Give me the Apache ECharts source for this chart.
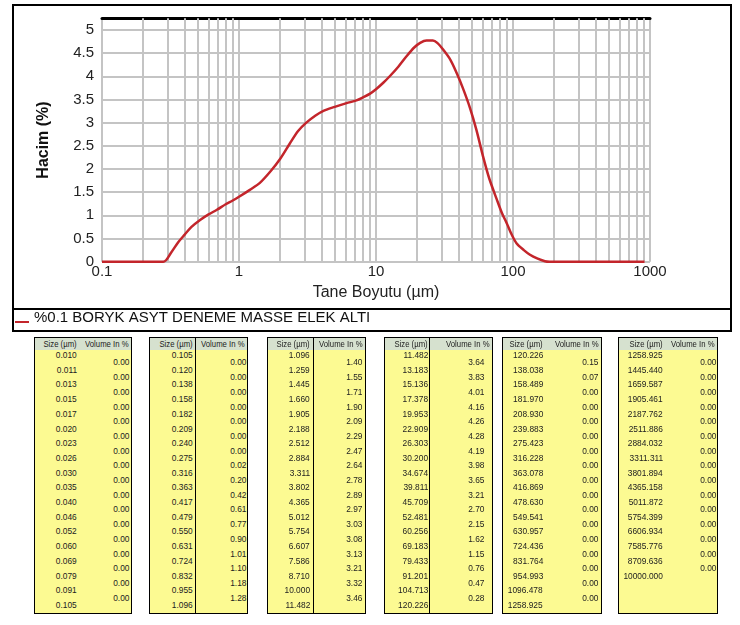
<!DOCTYPE html>
<html><head><meta charset="utf-8">
<script src="https://cdn.jsdelivr.net/npm/echarts/dist/echarts.min.js"></script>
<style>
html,body{margin:0;padding:0;background:#fff;}
#chart{position:absolute;left:0;top:0;width:740px;height:625px;}
.box{position:absolute;border:2px solid #000;box-sizing:border-box;}
.tbl{position:absolute;top:337px;height:277px;border:1px solid #000;box-sizing:border-box;background:#fcfa92;font-family:'Liberation Sans',Arial,sans-serif;font-size:9.5px;color:#222;overflow:hidden;}
.hdr{position:absolute;left:0;top:0;right:0;height:12px;background:#d6e1cf;}
.t{position:absolute;height:14px;line-height:14px;white-space:nowrap;text-align:right;transform:scaleX(0.88);transform-origin:right center;}
.ht{position:absolute;top:0;height:12px;line-height:12px;white-space:nowrap;text-align:right;font-size:9px;transform:scaleX(0.86);transform-origin:right center;}
.dv{position:absolute;top:0;bottom:0;width:1px;background:#000;}
</style></head>
<body>
<div id="chart"></div>
<div class="box" style="left:12px;top:4px;width:720px;height:306px;"></div>
<div class="box" style="left:12px;top:308px;width:720px;height:24px;"></div>
<div id="tables"></div>
<script>
// ---- curve (size in µm, volume in %) ----
var curveSize   = [0.1, 0.28, 0.32, 0.36, 0.40, 0.45, 0.52, 0.60, 0.69, 0.80, 0.90, 1.0, 1.2, 1.42, 1.7, 2.0, 2.35, 2.7, 3.1, 3.6, 4.1, 5.0, 6.1, 7.2, 8.1, 9.0, 10, 11.3, 12.6, 14.5, 16.7, 19, 21, 23.4, 26, 28, 31, 35, 38.8, 43, 48.5, 54, 60.7, 67, 76, 83, 90, 98, 106, 120, 133, 150, 171, 185, 500, 912];
var curveVolume = [0, 0, 0.2, 0.42, 0.58, 0.75, 0.9, 1.02, 1.12, 1.24, 1.32, 1.40, 1.55, 1.70, 1.95, 2.22, 2.55, 2.82, 3.0, 3.15, 3.25, 3.34, 3.42, 3.48, 3.55, 3.62, 3.72, 3.86, 4.0, 4.2, 4.43, 4.62, 4.72, 4.77, 4.77, 4.72, 4.57, 4.35, 4.07, 3.75, 3.32, 2.85, 2.25, 1.80, 1.35, 1.05, 0.83, 0.58, 0.40, 0.25, 0.15, 0.07, 0.01, 0, 0, 0];
var seriesName = '%0.1 BORYK ASYT DENEME MASSE ELEK ALTI';
var minorGrid = [0.2,0.3,0.4,0.5,0.6,0.7,0.8,0.9, 2,3,4,5,6,7,8,9, 20,30,40,50,60,70,80,90, 200,300,400,500,600,700,800,900];
var xName = 'Tane Boyutu (µm)';
var yName = 'Hacim (%)';

// ---- tables ----
var headSize = 'Size (µm)';
var headVol = 'Volume In %';
var sizes1 = ['0.010','0.011','0.013','0.015','0.017','0.020','0.023','0.026','0.030','0.035','0.040','0.046','0.052','0.060','0.069','0.079','0.091','0.105'];
var vols1  = ['0.00','0.00','0.00','0.00','0.00','0.00','0.00','0.00','0.00','0.00','0.00','0.00','0.00','0.00','0.00','0.00','0.00'];
var sizes2 = ['0.105','0.120','0.138','0.158','0.182','0.209','0.240','0.275','0.316','0.363','0.417','0.479','0.550','0.631','0.724','0.832','0.955','1.096'];
var vols2  = ['0.00','0.00','0.00','0.00','0.00','0.00','0.00','0.02','0.20','0.42','0.61','0.77','0.90','1.01','1.10','1.18','1.28'];
var sizes3 = ['1.096','1.259','1.445','1.660','1.905','2.188','2.512','2.884','3.311','3.802','4.365','5.012','5.754','6.607','7.586','8.710','10.000','11.482'];
var vols3  = ['1.40','1.55','1.71','1.90','2.09','2.29','2.47','2.64','2.78','2.89','2.97','3.03','3.08','3.13','3.21','3.32','3.46'];
var sizes4 = ['11.482','13.183','15.136','17.378','19.953','22.909','26.303','30.200','34.674','39.811','45.709','52.481','60.256','69.183','79.433','91.201','104.713','120.226'];
var vols4  = ['3.64','3.83','4.01','4.16','4.26','4.28','4.19','3.98','3.65','3.21','2.70','2.15','1.62','1.15','0.76','0.47','0.28'];
var sizes5 = ['120.226','138.038','158.489','181.970','208.930','239.883','275.423','316.228','363.078','416.869','478.630','549.541','630.957','724.436','831.764','954.993','1096.478','1258.925'];
var vols5  = ['0.15','0.07','0.00','0.00','0.00','0.00','0.00','0.00','0.00','0.00','0.00','0.00','0.00','0.00','0.00','0.00','0.00'];
var sizes6 = ['1258.925','1445.440','1659.587','1905.461','2187.762','2511.886','2884.032','3311.311','3801.894','4365.158','5011.872','5754.399','6606.934','7585.776','8709.636','10000.000'];
var vols6  = ['0.00','0.00','0.00','0.00','0.00','0.00','0.00','0.00','0.00','0.00','0.00','0.00','0.00','0.00','0.00'];

var tableLayout = [
  {left:34,  width:98,  sizeR:42, volR:94, div:null},
  {left:149, width:99,  sizeR:43, volR:96, div:45},
  {left:267, width:99,  sizeR:42, volR:94, div:45},
  {left:384, width:109, sizeR:43, volR:99, div:44},
  {left:502, width:100, sizeR:40, volR:95, div:null},
  {left:618, width:100, sizeR:44, volR:97, div:null}
];
var tableData = [[sizes1,vols1],[sizes2,vols2],[sizes3,vols3],[sizes4,vols4],[sizes5,vols5],[sizes6,vols6]];
var html = '';
tableLayout.forEach(function(L, k){
  var s = tableData[k][0], v = tableData[k][1];
  html += '<div class="tbl" style="left:'+L.left+'px;width:'+L.width+'px;">';
  html += '<div class="hdr"></div>';
  if (L.div !== null) html += '<div class="dv" style="left:'+L.div+'px"></div>';
  html += '<div class="ht" style="right:'+(L.width-2-L.sizeR)+'px">'+headSize+'</div>';
  html += '<div class="ht" style="right:2px">'+headVol+'</div>';
  s.forEach(function(t,i){
    html += '<div class="t" style="right:'+(L.width-2-L.sizeR)+'px;top:'+(10+i*14.7).toFixed(1)+'px">'+t+'</div>';
  });
  v.forEach(function(t,i){
    html += '<div class="t" style="right:'+(L.width-2-L.volR)+'px;top:'+(17.4+i*14.7).toFixed(1)+'px">'+t+'</div>';
  });
  html += '</div>';
});
document.getElementById('tables').innerHTML = html;

// ---- chart ----
var chart = echarts.init(document.getElementById('chart'), null, {renderer:'canvas'});
var lineData = curveSize.map(function(x,i){ return [x, curveVolume[i]]; });
var gridColor = '#c4c4c4';
var font = "'Liberation Sans', Arial, sans-serif";
chart.setOption({
  animation: false,
  backgroundColor: 'transparent',
  grid: {left:102, right:90, top:18.3, height:243.4, outerBoundsMode:'none', containLabel:false},
  legend: {
    data: [seriesName], left: 10, top: 305, itemWidth: 14, itemHeight: 11, itemGap: 2,
    icon: 'path://M0,0L14,0Z M0,9L14,9L14,11L0,11Z',
    textStyle: {fontFamily: font, fontSize: 15, color: '#111'}
  },
  xAxis: [{
    type: 'log', logBase: 10, min: 0.1, max: 1000,
    name: xName, nameLocation: 'middle', nameGap: 23,
    nameTextStyle: {fontFamily: font, fontSize: 16, color: '#222'},
    axisLine: {show:false}, axisTick: {show:false},
    axisLabel: {fontFamily: font, fontSize: 15, color:'#222', margin: 3,
      formatter: function(v){ return String(+v.toPrecision(3)); }},
    splitLine: {show:true, lineStyle:{color:gridColor, width:2}}
  },{
    type: 'log', logBase: 10, min: 0.1, max: 1000, position: 'top',
    axisLine: {show:true, onZero:false, lineStyle:{color:'#000', width:3}},
    axisTick: {show:false}, axisLabel: {show:false}, splitLine: {show:false}
  }],
  yAxis: {
    type: 'value', min: 0, max: 5.25, interval: 0.5,
    name: yName, nameLocation: 'middle', nameGap: 50,
    nameTextStyle: {fontFamily: font, fontSize: 16, fontWeight: 'bold', color: '#111'},
    axisLine: {show:false}, axisTick: {show:false},
    axisLabel: {fontFamily: font, fontSize: 15, color:'#222', margin: 8, showMaxLabel: false,
      formatter: function(v){ return v > 5.1 ? '' : String(v); }},
    splitLine: {show:true, lineStyle:{color:gridColor, width:2}}
  },
  series: [{
    name: 'grid', type: 'line', data: [[0.1, 0]], showSymbol: false, symbol: 'none',
    lineStyle: {opacity: 0}, silent: true, z: 1,
    markLine: {
      silent: true, symbol: ['none','none'], label: {show:false},
      lineStyle: {color: gridColor, width: 2, type: 'solid'},
      emphasis: {disabled: true},
      data: minorGrid.map(function(v){ return {xAxis: v}; })
    }
  },{
    name: seriesName, type: 'line', data: lineData, smooth: 0.3,
    showSymbol: false, symbol: 'none', z: 5,
    itemStyle: {color: '#c3252b'},
    lineStyle: {color: '#c3252b', width: 2.5}
  }]
});
</script>
</body></html>
